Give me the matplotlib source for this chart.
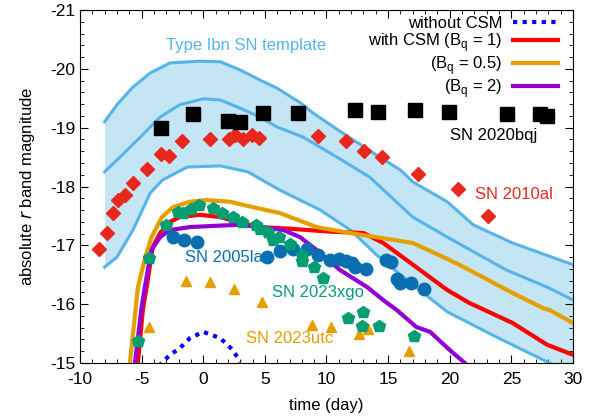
import numpy as np
import matplotlib
matplotlib.use("Agg")
import matplotlib.pyplot as plt
from matplotlib.ticker import MultipleLocator

plt.rcParams['font.family'] = ['Liberation Sans', 'DejaVu Sans']
plt.rcParams['axes.unicode_minus'] = False

# Type Ibn template band (upper / middle / lower curves)
tpl_up_t = [-8, -7, -5.7, -4.3, -2.7, -0.3, 1.4, 3.0, 4.6, 6.0, 7.9, 8.9, 11.3, 13.8, 16.0, 17.0, 19.8, 21.9, 25.1, 30]
tpl_up_m = [-19.10, -19.39, -19.69, -19.93, -20.10, -20.13, -20.12, -19.98, -19.81, -19.67, -19.42, -19.25, -18.91, -18.57, -18.28, -18.08, -17.74, -17.35, -17.04, -16.67]
tpl_mid_t = [-8, -6.75, -5.1, -3.5, -1.9, 0, 1.4, 3.0, 4.6, 6.0, 8.1, 10.85, 13.5, 17.0, 19.8, 24.6, 27.9, 30]
tpl_mid_m = [-18.25, -18.50, -18.84, -19.18, -19.39, -19.49, -19.47, -19.33, -19.18, -19.01, -18.84, -18.50, -18.16, -17.48, -17.14, -16.58, -16.29, -16.07]
tpl_lo_t = [-8, -7, -5.7, -4.3, -3.3, -1.3, 1.4, 3.6, 6.2, 9.5, 12.0, 14.0, 16.0, 19.8, 23.8, 27.9, 30]
tpl_lo_m = [-16.63, -16.80, -17.26, -17.89, -18.11, -18.33, -18.35, -18.25, -17.94, -17.60, -17.25, -16.85, -16.50, -15.87, -15.44, -15.02, -14.80]

# model light curves
nocsm_t = [-3.6, -2.7, -1.9, -1.1, 0, 1.4, 2.4, 3.0]
nocsm_m = [-14.95, -15.14, -15.25, -15.42, -15.53, -15.42, -15.22, -15.02]
bq1_t = [-5.35, -4.9, -4.5, -4.1, -3.5, -2.7, -1.9, -0.3, 1.4, 2.7, 4.6, 6.5, 10.5, 13.0, 14.6, 16.5, 19.8, 21.6, 25.1, 27.9, 30]
bq1_m = [-14.9, -15.90, -16.41, -16.97, -17.21, -17.40, -17.48, -17.52, -17.48, -17.40, -17.31, -17.29, -17.23, -17.21, -17.04, -16.75, -16.24, -16.02, -15.68, -15.31, -15.14]
bq05_t = [-6.0, -5.3, -4.7, -4.2, -3.35, -2.45, -1.1, 0.3, 2.2, 4.0, 6.2, 9.2, 11.9, 14.6, 17.0, 20.0, 21.6, 25.1, 27.6, 28.1, 30]
bq05_m = [-14.9, -16.29, -16.80, -17.14, -17.48, -17.65, -17.74, -17.77, -17.74, -17.65, -17.55, -17.31, -17.21, -17.12, -17.04, -16.75, -16.58, -16.19, -15.93, -15.90, -15.68]
bq2_t = [-5.6, -5.0, -4.6, -4.2, -3.5, -2.7, -1.1, 0.8, 3.0, 4.6, 6.5, 7.85, 9.2, 11.1, 13.3, 14.6, 15.7, 17.3, 18.4, 20.0, 21.5]
bq2_m = [-14.9, -15.95, -16.46, -16.92, -17.14, -17.26, -17.31, -17.33, -17.35, -17.31, -17.26, -17.14, -16.92, -16.58, -16.29, -16.07, -15.90, -15.61, -15.53, -15.22, -14.95]

# observed SNe
sn20bqj_t = [-3.4, -0.8, 2.0, 3.0, 4.85, 7.7, 12.3, 14.2, 17.2, 19.9, 24.65, 27.3, 27.9]
sn20bqj_m = [-18.99, -19.23, -19.11, -19.10, -19.25, -19.25, -19.30, -19.27, -19.30, -19.27, -19.23, -19.23, -19.20]
sn10al_t = [-8.46, -7.81, -7.32, -6.92, -6.35, -5.70, -4.56, -3.43, -2.78, -1.72, 0.55, 2.09, 2.58, 3.23, 3.96, 4.52, 9.31, 11.58, 13.04, 14.5, 17.42, 20.67, 23.1]
sn10al_m = [-16.94, -17.21, -17.55, -17.77, -17.86, -18.06, -18.30, -18.55, -18.52, -18.77, -18.81, -18.81, -18.88, -18.81, -18.88, -18.82, -18.86, -18.77, -18.60, -18.50, -18.21, -17.96, -17.50]
sn05la_t = [-2.45, -1.56, -0.51, 5.17, 6.23, 7.28, 8.42, 9.31, 10.28, 11.01, 11.58, 12.07, 12.31, 13.2, 14.83, 15.23, 15.72, 15.96, 16.86, 17.9]
sn05la_m = [-17.14, -17.09, -17.06, -16.80, -16.90, -16.94, -16.94, -16.84, -16.75, -16.77, -16.73, -16.70, -16.63, -16.60, -16.75, -16.72, -16.43, -16.36, -16.36, -16.26]
sn23xgo_t = [-5.29, -4.4, -3.02, -2.05, -1.64, -1.0, -0.34, 0.79, 1.52, 2.41, 3.14, 4.28, 4.6, 5.25, 5.66, 6.15, 7.04, 8.0, 8.0, 8.99, 9.72, 11.74, 12.96, 12.88, 14.26, 17.1]
sn23xgo_m = [-15.37, -16.78, -17.35, -17.57, -17.55, -17.62, -17.69, -17.63, -17.55, -17.48, -17.40, -17.35, -17.28, -17.23, -17.09, -17.14, -17.02, -16.84, -16.73, -16.63, -16.44, -15.76, -15.87, -15.63, -15.63, -15.46]
sn23utc_t = [-4.4, -1.4, 0.55, 2.5, 4.77, 8.82, 10.36, 12.64, 13.37, 16.7]
sn23utc_m = [-15.62, -16.39, -16.37, -16.25, -16.03, -15.64, -15.61, -15.49, -15.57, -15.20]

tpl_col = '#56b4e9'
fill_col = '#c4e5f4'

fig = plt.figure(figsize=(6, 4.2), dpi=100)
ax = fig.add_axes([0.1333, 0.1357, 0.8217, 0.8405])

# template band
grid = np.linspace(-8, 30, 400)
ax.fill_between(grid, np.interp(grid, tpl_up_t, tpl_up_m), np.interp(grid, tpl_lo_t, tpl_lo_m),
                color=fill_col, lw=0, zorder=1)
for tt, mm in [(tpl_up_t, tpl_up_m), (tpl_mid_t, tpl_mid_m), (tpl_lo_t, tpl_lo_m)]:
    ax.plot(tt, mm, color=tpl_col, lw=2.2, zorder=2)

# models
l0, = ax.plot(nocsm_t, nocsm_m, color='#0000ff', lw=3, ls=(0, (1, 1.3)), zorder=3, label='without CSM')
l1, = ax.plot(bq1_t, bq1_m, color='#ff0000', lw=3, zorder=3, label='with CSM (B$_\\mathregular{q}$ = 1)')
l2, = ax.plot(bq05_t, bq05_m, color='#e69f00', lw=3, zorder=3, label='(B$_\\mathregular{q}$ = 0.5)')
l3, = ax.plot(bq2_t, bq2_m, color='#9400d3', lw=3, zorder=3, label='(B$_\\mathregular{q}$ = 2)')

# data
ax.plot(sn10al_t, sn10al_m, ls='none', marker='D', ms=7, color='#e8281c', zorder=4)
ax.plot(sn20bqj_t, sn20bqj_m, ls='none', marker='s', ms=9.5, color='black', zorder=4)
ax.plot(sn05la_t, sn05la_m, ls='none', marker='o', ms=9, color='#0a6fb0', zorder=4)
ax.plot(sn23xgo_t, sn23xgo_m, ls='none', marker='p', ms=9, color='#049e73', zorder=5)
ax.plot(sn23utc_t, sn23utc_m, ls='none', marker='^', ms=7.5, color='#e69f00', zorder=4)

# labels
ax.text(3.5, -20.4, 'Type Ibn SN template', color=tpl_col, fontsize=12, ha='center', va='center')
ax.text(27.1, -18.87, 'SN 2020bqj', color='black', fontsize=12, ha='right', va='center')
ax.text(28.4, -17.86, 'SN 2010al', color='#e8281c', fontsize=12, ha='right', va='center')
ax.text(-1.5, -16.8, 'SN 2005la', color='#0a6fb0', fontsize=12, ha='left', va='center')
ax.text(5.6, -16.2, 'SN 2023xgo', color='#049e73', fontsize=12, ha='left', va='center')
ax.text(3.5, -15.42, 'SN 2023utc', color='#e69f00', fontsize=12, ha='left', va='center')

leg = ax.legend(handles=[l0, l1, l2, l3], loc='upper right', bbox_to_anchor=(0.977, 0.993),
                frameon=False, markerfirst=False, fontsize=12, handlelength=2.7,
                handletextpad=0.65, labelspacing=0.0, borderpad=0.2, borderaxespad=0)

ax.set_xlim(-10, 30)
ax.set_ylim(-15, -21)
ax.xaxis.set_major_locator(MultipleLocator(5))
ax.xaxis.set_minor_locator(MultipleLocator(1))
ax.yaxis.set_major_locator(MultipleLocator(1))
ax.yaxis.set_minor_locator(MultipleLocator(0.2))
ax.tick_params(which='both', direction='in', top=True, right=True, labelsize=12.5)
ax.tick_params(axis='x', which='major', pad=6.5)
ax.tick_params(which='major', length=6)
ax.tick_params(which='minor', length=3)
ax.set_xlabel('time (day)', fontsize=12, labelpad=8)
ax.set_ylabel('absolute $\\mathit{r}$ band magnitude', fontsize=12, labelpad=9)

fig.savefig('out.png', dpi=100)
